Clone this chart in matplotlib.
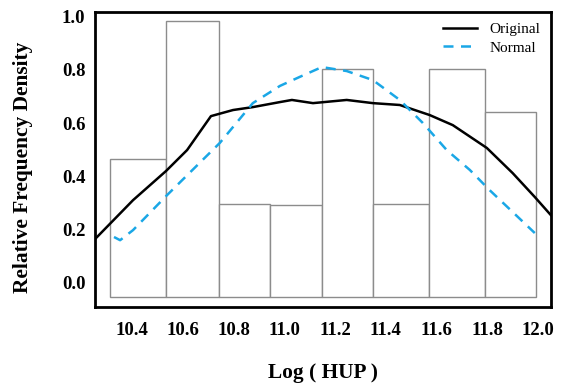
import matplotlib.pyplot as plt
import numpy as np

# histogram bins of Log(HUP) and their relative frequency density
bin_edges = [10.313, 10.534, 10.743, 10.943, 11.148, 11.348, 11.572, 11.789, 11.990]
bin_heights = [0.464, 0.985, 0.294, 0.290, 0.804, 0.294, 0.804, 0.642]
bar_base = -0.057

# fitted density curves
orig_x = [10.254, 10.404, 10.534, 10.617, 10.711, 10.798, 10.876, 10.983, 11.030,
          11.113, 11.246, 11.349, 11.455, 11.573, 11.664, 11.798, 11.900, 11.987, 12.050]
orig_y = [0.162, 0.309, 0.419, 0.498, 0.626, 0.649, 0.660, 0.679, 0.687,
          0.675, 0.687, 0.675, 0.668, 0.630, 0.592, 0.506, 0.411, 0.321, 0.253]

norm_x = [10.329, 10.353, 10.404, 10.538, 10.746, 10.876, 10.983, 11.061, 11.148,
          11.246, 11.349, 11.455, 11.546, 11.640, 11.731, 11.809, 11.987]
norm_y = [0.170, 0.158, 0.196, 0.328, 0.525, 0.675, 0.740, 0.774, 0.811,
          0.796, 0.762, 0.687, 0.600, 0.498, 0.423, 0.347, 0.185]

xticks = [10.4, 10.6, 10.8, 11.0, 11.2, 11.4, 11.6, 11.8, 12.0]
yticks = [0.0, 0.2, 0.4, 0.6, 0.8, 1.0]

plt.rcParams['font.family'] = ['Liberation Serif', 'DejaVu Serif']

fig = plt.figure(figsize=(5.62, 3.85), dpi=100)
ax = fig.add_axes([0.169, 0.2026, 0.811, 0.7664])

lefts = bin_edges[:-1]
widths = np.diff(bin_edges)
tops = np.array(bin_heights)
ax.bar(lefts, tops - bar_base, width=widths, bottom=bar_base, align='edge',
       facecolor='white', edgecolor='#8c8c8c', linewidth=1.0, zorder=1)

ax.plot(orig_x, orig_y, color='black', lw=1.8, label='Original', zorder=3)
ax.plot(norm_x, norm_y, color='#1aa7e6', lw=1.8, ls=(0, (4, 3)), label='Normal', zorder=3)

ax.set_xlim(10.254, 12.050)
ax.set_ylim(-0.094, 1.019)
ax.set_xticks(xticks)
ax.set_xticklabels([f'{t:.1f}' for t in xticks])
ax.set_yticks(yticks)
ax.set_yticklabels([f'{t:.1f}' for t in yticks])
ax.tick_params(axis='x', length=0, pad=11, labelsize=13.5)
ax.tick_params(axis='y', length=0, pad=7, labelsize=13.5)
for lab in ax.get_xticklabels() + ax.get_yticklabels():
    lab.set_fontweight('bold')

for sp in ax.spines.values():
    sp.set_linewidth(2.0)

ax.set_xlabel('Log ( HUP )', fontsize=15.4, fontweight='bold')
ax.xaxis.set_label_coords(0.5, -0.19)
ax.set_ylabel('Relative Frequency Density', fontsize=15.4, fontweight='bold')
ax.yaxis.set_label_coords(-0.136, 0.475)

ax.legend(loc='upper right', frameon=False, fontsize=11, handlelength=2.2,
          bbox_to_anchor=(1.0, 1.0), borderaxespad=0.3, labelspacing=0.3)

fig.savefig('out.png', dpi=100)
